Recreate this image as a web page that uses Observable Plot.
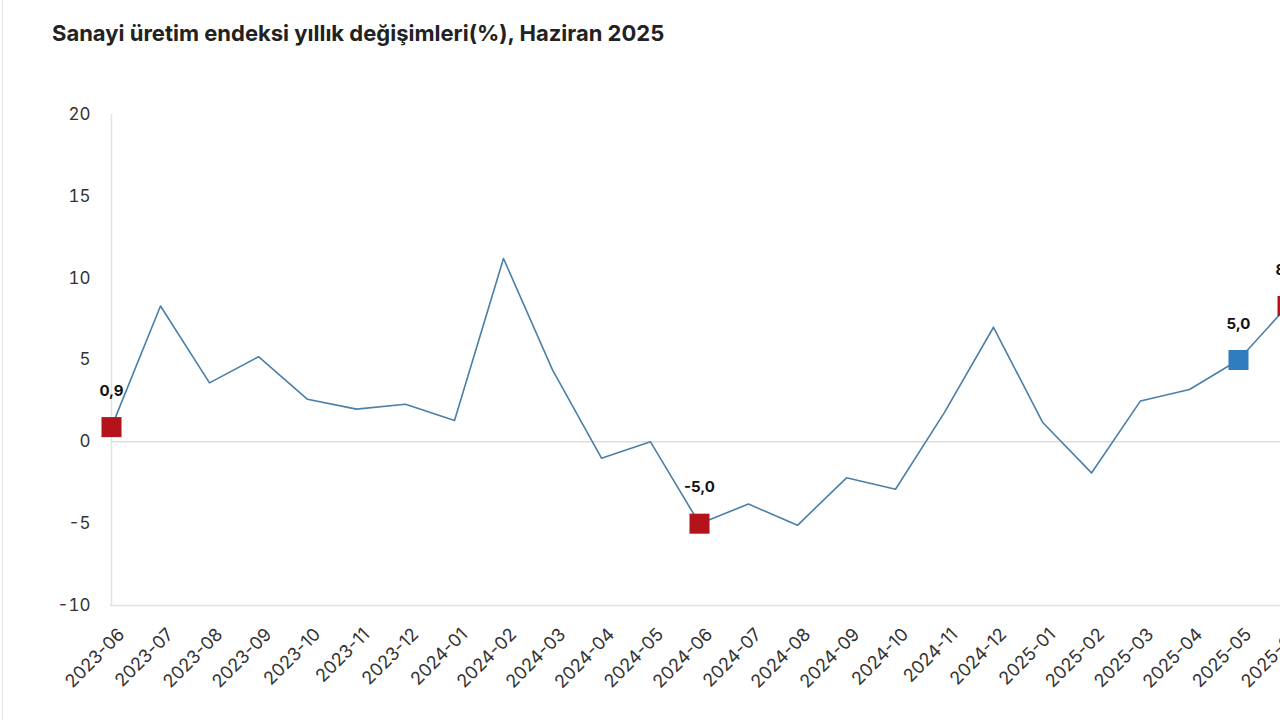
<!DOCTYPE html>
<html>
<head>
<meta charset="utf-8">
<script src="https://cdn.jsdelivr.net/npm/d3@7"></script>
<script src="https://cdn.jsdelivr.net/npm/@observablehq/plot@0.6"></script>
<style>
  html, body { margin: 0; padding: 0; background: #fff; overflow: hidden; width: 1280px; height: 720px; }
  #frame { position: absolute; left: 2px; top: 0; width: 1px; height: 720px; background: #e4e4ec; }
  #title { position: absolute; left: 52px; top: 20px; font-family: Inter, "Noto Sans", sans-serif; font-weight: 700; font-size: 22px; color: #222; white-space: nowrap; }
  #chart { position: absolute; left: 0; top: 60px; }
  #chart svg { max-width: none !important; }
</style>
</head>
<body>
<div id="frame"></div>
<div id="title">Sanayi üretim endeksi yıllık değişimleri(%), Haziran 2025</div>
<div id="chart"></div>
<script>
const months = ["2023-06","2023-07","2023-08","2023-09","2023-10","2023-11","2023-12",
  "2024-01","2024-02","2024-03","2024-04","2024-05","2024-06","2024-07","2024-08","2024-09",
  "2024-10","2024-11","2024-12","2025-01","2025-02","2025-03","2025-04","2025-05","2025-06"];
const values = [0.9, 8.3, 3.6, 5.2, 2.6, 2.0, 2.3,
  1.3, 11.2, 4.4, -1.0, 0.0, -5.0, -3.8, -5.1, -2.2,
  -2.9, 1.8, 7.0, 1.2, -1.9, 2.5, 3.2, 5.0, 8.3];
const yTicks = [-10, -5, 0, 5, 10, 15, 20];
const highlightMonths = ["2023-06", "2024-06", "2025-05", "2025-06"];
const highlightColors = ["#b3141c", "#b3141c", "#2f7dbf", "#b3141c"];

const data = months.map((m, i) => ({month: m, value: values[i]}));
const highlights = highlightMonths.map((m, i) => ({month: m, value: values[months.indexOf(m)], color: highlightColors[i]}));
const fmt = v => d3.format(".1f")(v).replace(/\u2212/g, "-").replace(".", ",");

const chart = Plot.plot({
  width: 1320,
  height: 660,
  marginLeft: 110,
  marginRight: 32,
  marginTop: 54,
  marginBottom: 115,
  style: {fontFamily: "Inter, 'Noto Sans', sans-serif", color: "#333", background: "transparent", maxWidth: "none"},
  x: {type: "point", domain: months, padding: 0, label: null},
  y: {domain: [-10, 20], ticks: yTicks, label: null},
  marks: [
    Plot.ruleY([-10], {stroke: "#e2e2e2", strokeWidth: 1.5}),
    Plot.ruleY([0], {stroke: "#dedede", strokeWidth: 1.5}),
    Plot.ruleX([months[0]], {y1: -10, y2: 20, stroke: "#e2e2e2", strokeWidth: 1.5}),
    Plot.axisY({ticks: yTicks, tickSize: 0, tickPadding: 20, fontSize: 17, label: null, fill: "#333", tickFormat: d => String(d)}),
    Plot.axisX({tickSize: 0, tickRotate: -45, tickPadding: 26, dx: 10, fontSize: 18, label: null, fill: "#333"}),
    Plot.line(data, {x: "month", y: "value", stroke: "#4a7fa8", strokeWidth: 1.6}),
    Plot.dot(highlights, {x: "month", y: "value", symbol: "square", r: 11.3, fill: "color", stroke: "none"}),
    Plot.text(highlights, {x: "month", y: "value", text: d => fmt(d.value), dy: -36, fontSize: 15, fontWeight: 700, fill: "#111"})
  ]
});
document.getElementById("chart").appendChild(chart);
</script>
</body>
</html>
